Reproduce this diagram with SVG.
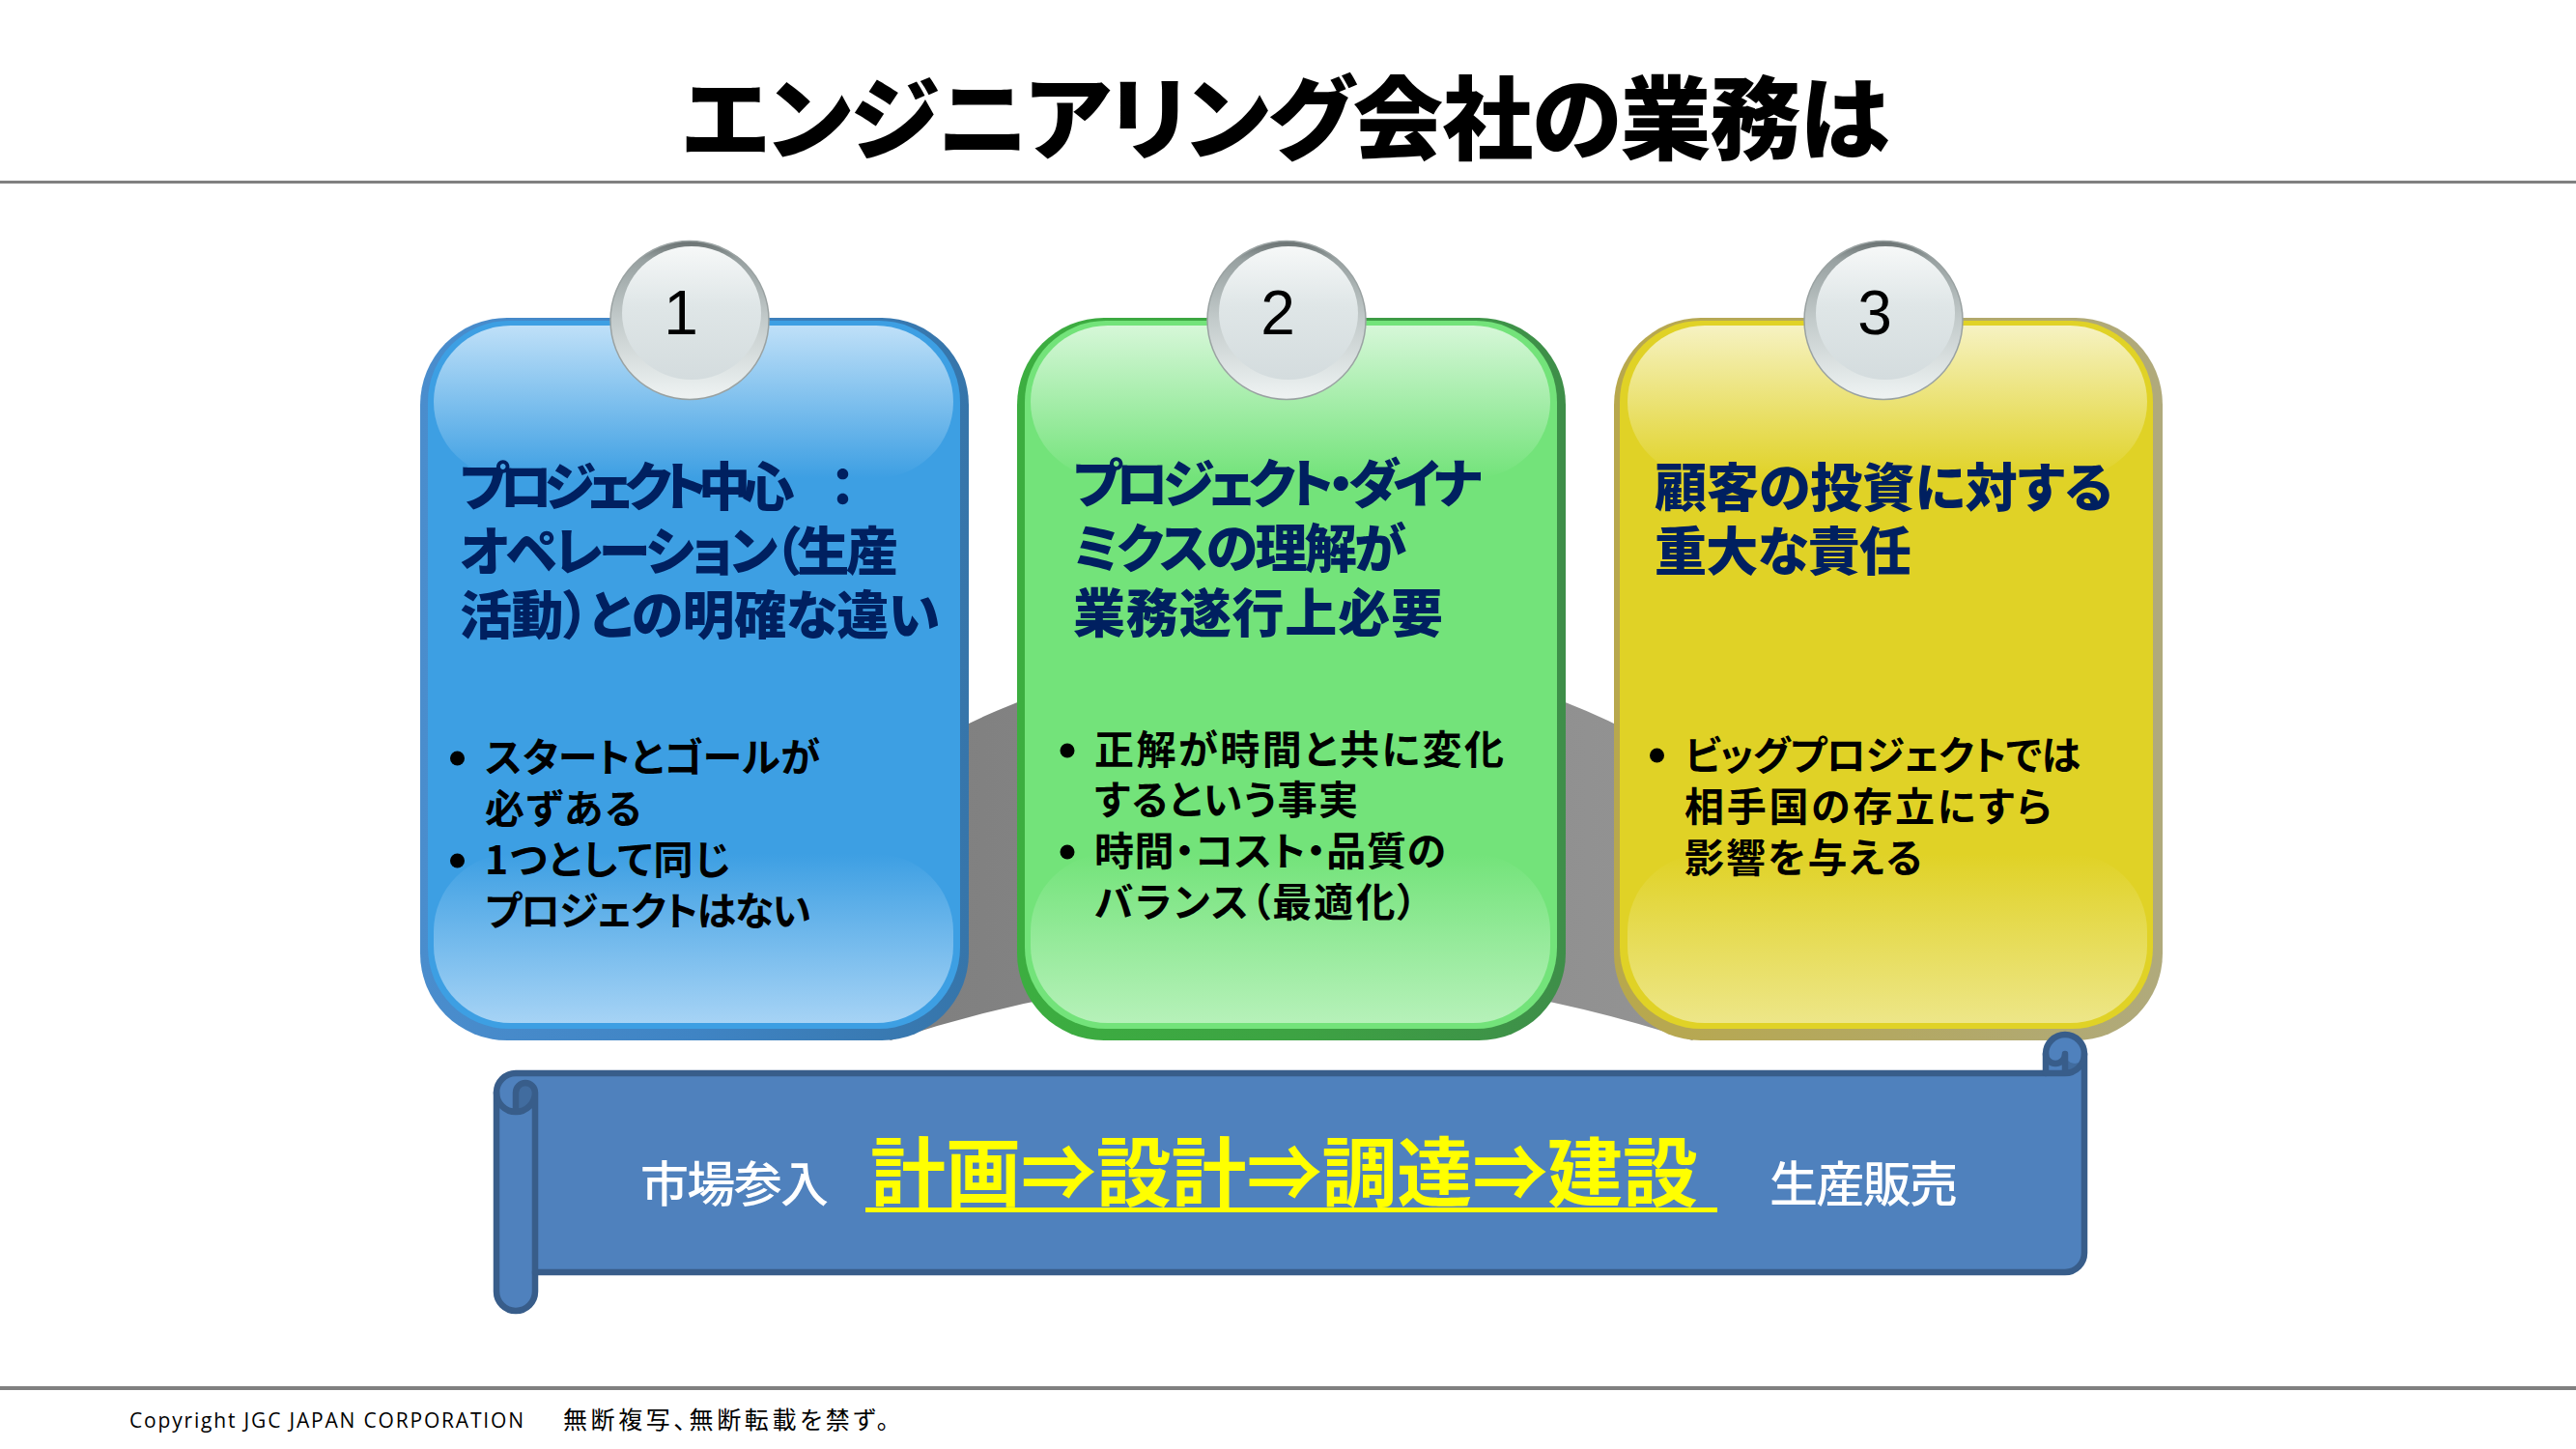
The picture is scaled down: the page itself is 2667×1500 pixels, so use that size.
<svg xmlns="http://www.w3.org/2000/svg" width="2667" height="1500" viewBox="0 0 2667 1500">
<defs>
<style>
.jp{font-family:'Noto Sans CJK JP','Noto Sans CJK SC',sans-serif;font-feature-settings:"palt" 1;}
.title{font-size:94px;font-weight:900;fill:#000;}
.h{font-size:54px;font-weight:900;fill:#002060;}
.b{font-size:41px;font-weight:700;fill:#000;}
.num{font-family:'Liberation Sans',Arial,sans-serif;font-size:64px;fill:#000;text-anchor:middle;}
.bw{font-size:50px;font-weight:500;fill:#fff;}
.by{font-size:78px;font-weight:700;fill:#ffff00;}
.foot{font-family:'Open Sans','Liberation Sans',sans-serif;font-size:21px;fill:#000;}
.footj{font-size:25px;fill:#000;}
.dot{fill:#000;}
.scroll{fill:#4f81bd;stroke:#385d8a;stroke-width:6.5;stroke-linejoin:round;}
.curl{fill:#416c9f;stroke:none;}
.sline{fill:none;stroke:#385d8a;stroke-width:6.5;stroke-linejoin:round;stroke-linecap:round;}
.ring{fill:url(#badgeRing);stroke:#9aa2a2;stroke-width:1.5;}
.face{fill:url(#badgeFace);}
</style>
<linearGradient id="shadowG" gradientUnits="userSpaceOnUse" x1="900" y1="0" x2="1800" y2="0">
<stop offset="0" stop-color="#7e7e7e"/><stop offset="1" stop-color="#959595"/>
</linearGradient>
<linearGradient id="bBorder" x1="0" y1="0" x2="1" y2="0">
<stop offset="0" stop-color="#4a8dcd"/><stop offset="0.5" stop-color="#3f84c4"/><stop offset="1" stop-color="#3675aa"/>
</linearGradient>
<linearGradient id="bTop" x1="0" y1="0" x2="0" y2="1">
<stop offset="0" stop-color="#bfe0f8"/><stop offset="1" stop-color="#3d9fe3"/>
</linearGradient>
<linearGradient id="bBot" x1="0" y1="0" x2="0" y2="1">
<stop offset="0" stop-color="#3d9fe3"/><stop offset="1" stop-color="#a6d3f5"/>
</linearGradient>
<linearGradient id="gBorder" x1="0" y1="0" x2="1" y2="0">
<stop offset="0" stop-color="#3cae40"/><stop offset="0.5" stop-color="#3da343"/><stop offset="1" stop-color="#3e8e49"/>
</linearGradient>
<linearGradient id="gTop" x1="0" y1="0" x2="0" y2="1">
<stop offset="0" stop-color="#d6f7d8"/><stop offset="1" stop-color="#73e37a"/>
</linearGradient>
<linearGradient id="gBot" x1="0" y1="0" x2="0" y2="1">
<stop offset="0" stop-color="#73e37a"/><stop offset="1" stop-color="#b6f1b9"/>
</linearGradient>
<linearGradient id="yBorder" x1="0" y1="0" x2="1" y2="0">
<stop offset="0" stop-color="#b8a84c"/><stop offset="0.5" stop-color="#b3a862"/><stop offset="1" stop-color="#b0aa7c"/>
</linearGradient>
<linearGradient id="yTop" x1="0" y1="0" x2="0" y2="1">
<stop offset="0" stop-color="#f6f2c2"/><stop offset="1" stop-color="#e0d226"/>
</linearGradient>
<linearGradient id="yBot" x1="0" y1="0" x2="0" y2="1">
<stop offset="0" stop-color="#e0d226"/><stop offset="1" stop-color="#ede688"/>
</linearGradient>
<linearGradient id="badgeRing" x1="0" y1="0" x2="0" y2="1">
<stop offset="0" stop-color="#687070"/><stop offset="0.12" stop-color="#98a1a1"/><stop offset="0.5" stop-color="#c3cbcb"/><stop offset="0.85" stop-color="#e2e8e8"/><stop offset="1" stop-color="#eff3f3"/>
</linearGradient>
<linearGradient id="badgeFace" x1="0" y1="0" x2="0" y2="1">
<stop offset="0" stop-color="#f6f8f8"/><stop offset="0.45" stop-color="#dfe6e7"/><stop offset="1" stop-color="#d4dcde"/>
</linearGradient>
</defs>

<rect x="0" y="0" width="2667" height="1500" fill="#ffffff"/>

<g id="title">
<text class="jp title" x="706" y="158" textLength="1250">エンジニアリング会社の業務は</text>
<rect x="0" y="187" width="2667" height="3" fill="#808080"/>
</g>

<g id="shadow">
<path d="M 787 1027 A 550 350 0 0 1 1887 1027 L 1887 1070 L 1760 1070 L 1752 1077 Q 1337 940 922 1077 L 914 1070 L 787 1070 Z" fill="url(#shadowG)"/>
</g>

<g id="connectors"></g>

<g id="card-1">
<rect x="435" y="329" width="568" height="748" rx="90" fill="url(#bBorder)"/>
<rect x="443" y="332" width="551" height="733" rx="84" fill="#3d9fe3"/>
<rect x="449" y="337" width="538" height="158" rx="80" fill="url(#bTop)"/>
<rect x="449" y="884" width="538" height="175" rx="80" fill="url(#bBot)"/>
<circle class="ring" cx="714" cy="331.5" r="82"/>
<ellipse class="face" cx="716" cy="324" rx="72" ry="69"/>
<text class="num" x="705" y="346">1</text>
<text class="jp h" x="476" y="524" textLength="410">プロジェクト中心　：</text>
<text class="jp h" x="476" y="591" textLength="454">オペレーション（生産</text>
<text class="jp h" x="476" y="657" textLength="497">活動）との明確な違い</text>
<circle class="dot" cx="473.5" cy="785" r="7.5"/>
<circle class="dot" cx="473.5" cy="891" r="7.5"/>
<text class="jp b" x="502" y="799" textLength="347">スタートとゴールが</text>
<text class="jp b" x="502" y="852" textLength="162">必ずある</text>
<text class="jp b" x="502" y="905" textLength="254">1つとして同じ</text>
<text class="jp b" x="502" y="958" textLength="338">プロジェクトはない</text>
</g>

<g id="card-2">
<rect x="1053" y="329" width="568" height="748" rx="90" fill="url(#gBorder)"/>
<rect x="1061" y="332" width="551" height="733" rx="84" fill="#73e37a"/>
<rect x="1067" y="337" width="538" height="158" rx="80" fill="url(#gTop)"/>
<rect x="1067" y="884" width="538" height="175" rx="80" fill="url(#gBot)"/>
<circle class="ring" cx="1332" cy="331.5" r="82"/>
<ellipse class="face" cx="1334" cy="324" rx="72" ry="69"/>
<text class="num" x="1323" y="346">2</text>
<text class="jp h" x="1111" y="521" textLength="423">プロジェクト・ダイナ</text>
<text class="jp h" x="1111" y="588" textLength="345">ミクスの理解が</text>
<text class="jp h" x="1111" y="655" textLength="383">業務遂行上必要</text>
<circle class="dot" cx="1105" cy="777" r="7.5"/>
<circle class="dot" cx="1105" cy="882" r="7.5"/>
<text class="jp b" x="1133" y="791" textLength="424">正解が時間と共に変化</text>
<text class="jp b" x="1133" y="843" textLength="273">するという事実</text>
<text class="jp b" x="1133" y="896" textLength="364">時間・コスト・品質の</text>
<text class="jp b" x="1133" y="949" textLength="334">バランス（最適化）</text>
</g>

<g id="card-3">
<rect x="1671" y="329" width="568" height="748" rx="90" fill="url(#yBorder)"/>
<rect x="1677" y="332" width="552" height="733" rx="84" fill="#e0d226"/>
<rect x="1685" y="337" width="538" height="158" rx="80" fill="url(#yTop)"/>
<rect x="1685" y="884" width="538" height="175" rx="80" fill="url(#yBot)"/>
<circle class="ring" cx="1950" cy="331.5" r="82"/>
<ellipse class="face" cx="1952" cy="324" rx="72" ry="69"/>
<text class="num" x="1941" y="346">3</text>
<text class="jp h" x="1713" y="525" textLength="474">顧客の投資に対する</text>
<text class="jp h" x="1713" y="591" textLength="266">重大な責任</text>
<circle class="dot" cx="1715.5" cy="782" r="7.5"/>
<text class="jp b" x="1744" y="797" textLength="410">ビッグプロジェクトでは</text>
<text class="jp b" x="1744" y="850" textLength="380">相手国の存立にすら</text>
<text class="jp b" x="1744" y="903" textLength="246">影響を与える</text>
</g>

<g id="banner">
<path class="scroll" d="M 514 1131 A 20 20 0 0 1 534 1111 L 2118 1111 L 2118 1091 A 20 20 0 0 1 2158 1091 L 2158 1297 A 20 20 0 0 1 2138 1317 L 554 1317 L 554 1337 A 20 20 0 0 1 514 1337 Z"/>
<path class="curl" d="M 534 1151 A 20 20 0 0 0 554 1131 A 10 10 0 0 0 534 1131 Z"/>
<path class="curl" d="M 2138 1111 A 20 20 0 0 0 2158 1091 A 10 10 0 0 1 2138 1091 Z"/>
<path class="sline" d="M 2118 1111 L 2138 1111 A 20 20 0 0 0 2158 1091 M 2138 1111 L 2138 1091 A 10 10 0 0 1 2118 1091 M 534 1151 L 534 1131 A 10 10 0 0 1 554 1131 A 20 20 0 0 1 514 1131 M 554 1131 L 554 1317"/>
<text class="jp bw" x="663" y="1244" textLength="195">市場参入</text>
<text class="jp by" x="901" y="1243" textLength="857">計画⇒設計⇒調達⇒建設</text>
<rect x="896" y="1250" width="882" height="5" fill="#ffff00"/>
<text class="jp bw" x="1832" y="1244" textLength="195">生産販売</text>
</g>

<g id="footer">
<rect x="0" y="1435" width="2667" height="4" fill="#808080"/>
<text class="foot" x="134" y="1478" textLength="408">Copyright JGC JAPAN CORPORATION</text>
<text class="jp footj" x="583" y="1479" textLength="337">無断複写、無断転載を禁ず。</text>
</g>
</svg>
